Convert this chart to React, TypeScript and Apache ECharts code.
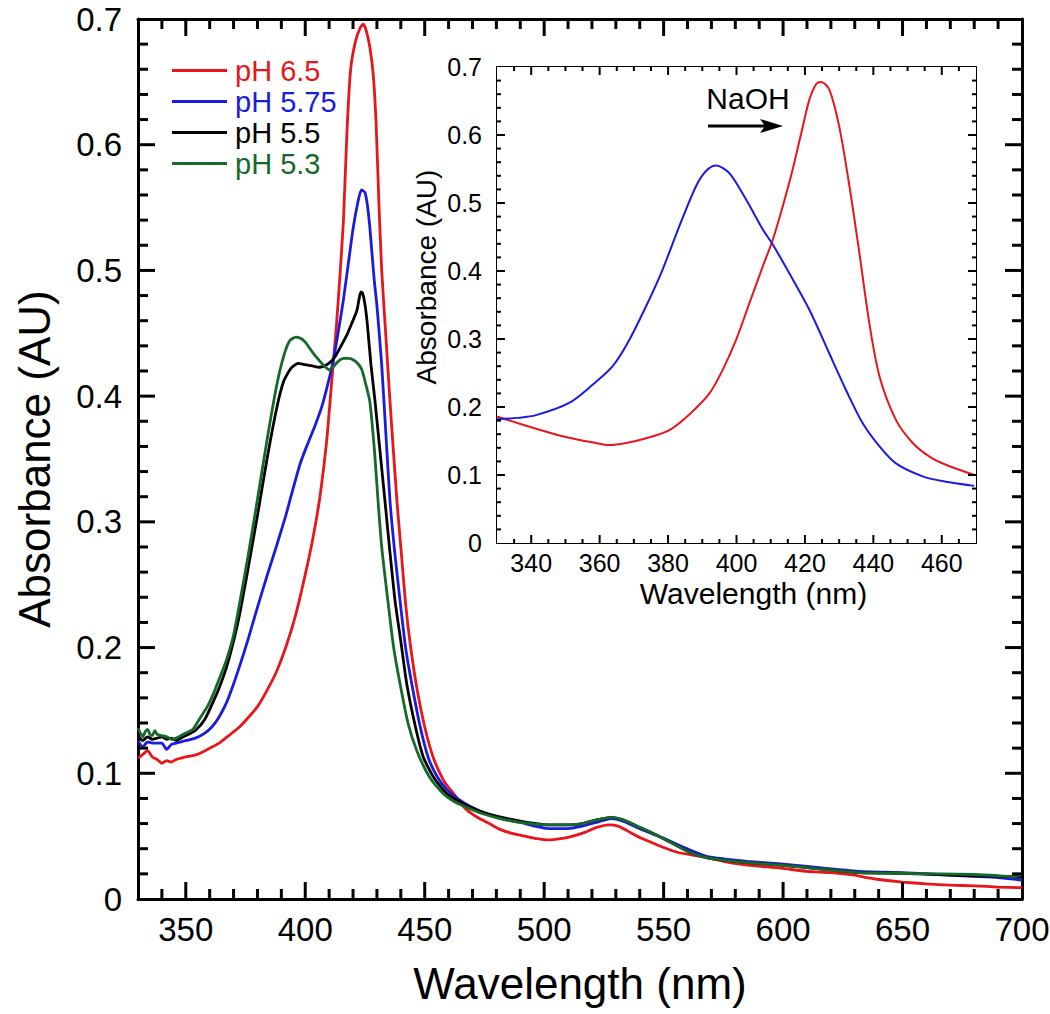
import React, { useEffect, useRef } from "react";
import * as echarts from "echarts";

const FONT = '"Liberation Sans", Arial, Helvetica, sans-serif';

// tick labels / tick positions
const mainMajorTicks = [350, 400, 450, 500, 550, 600, 650, 700];
const mainMinorTicks = [340, 360, 370, 380, 390, 410, 420, 430, 440, 460, 470, 480, 490, 510, 520, 530, 540, 560, 570, 580, 590, 610, 620, 630, 640, 660, 670, 680, 690];
const insetMajorTicks = [340, 360, 380, 400, 420, 440, 460];
const insetMinorTicks = [335, 345, 350, 355, 365, 370, 375, 385, 390, 395, 405, 410, 415, 425, 430, 435, 445, 450, 455, 465];
const yMajorTicks = [0.1, 0.2, 0.3, 0.4, 0.5, 0.6];
const yMinorTicks = [0.02, 0.04, 0.06, 0.08, 0.12, 0.14, 0.16, 0.18, 0.22, 0.24, 0.26, 0.28, 0.32, 0.34, 0.36, 0.38, 0.42, 0.44, 0.46, 0.48, 0.52, 0.54, 0.56, 0.58, 0.62, 0.64, 0.66, 0.68];

// legend names
const names = ["pH 6.5", "pH 5.75", "pH 5.5", "pH 5.3"];
const colors = ["#e8161b", "#1b1be0", "#000000", "#15692a"];

// pH 6.5
const wl65 = [330, 332, 334, 336, 338, 340, 342, 344, 346, 348, 350, 353, 356, 360, 364, 368, 372, 376, 380, 384, 388, 392, 396, 400, 403, 406, 409, 411, 413, 414.5, 416, 417.5, 419, 421, 423, 424.3, 425.5, 427, 428.5, 429.7, 430.8, 432, 433.5, 435.5, 438.4, 440, 442, 444, 446.7, 450, 453.5, 458, 462, 467, 472, 477, 482, 487, 492, 497, 502, 507, 512, 517, 522, 527, 531, 535, 540, 545, 550, 556, 562, 568, 575, 585, 599, 610, 620, 630, 635, 640, 650, 660, 670, 680, 690, 700];
const abs65 = [0.112, 0.115, 0.118, 0.113, 0.111, 0.108, 0.110, 0.109, 0.111, 0.112, 0.113, 0.114, 0.116, 0.120, 0.124, 0.130, 0.136, 0.144, 0.153, 0.166, 0.181, 0.201, 0.226, 0.258, 0.285, 0.318, 0.365, 0.410, 0.455, 0.495, 0.540, 0.612, 0.660, 0.682, 0.693, 0.696, 0.691, 0.678, 0.655, 0.615, 0.555, 0.500, 0.455, 0.395, 0.316, 0.280, 0.235, 0.202, 0.168, 0.137, 0.113, 0.094, 0.084, 0.072, 0.065, 0.060, 0.055, 0.052, 0.050, 0.048, 0.047, 0.048, 0.050, 0.053, 0.057, 0.059, 0.058, 0.054, 0.049, 0.045, 0.041, 0.037, 0.035, 0.033, 0.030, 0.027, 0.0245, 0.022, 0.021, 0.019, 0.017, 0.0155, 0.0135, 0.012, 0.011, 0.0105, 0.0095, 0.009];

// pH 5.75
const wl575 = [330, 332, 334, 336, 338, 340, 342, 344, 346, 348, 350, 354, 358, 361, 364, 367, 370, 373, 376, 380, 384, 388, 392, 395, 398, 401, 404, 407, 409.5, 411.6, 413, 414.5, 416, 418, 420, 422, 423.5, 425, 426, 427, 428, 429, 430, 432, 434, 435.5, 437.5, 439.7, 442, 444.6, 448, 451.4, 455, 459.3, 466, 473, 480, 490, 496, 502, 510, 516, 522, 528, 533, 540, 549, 555, 561, 568, 575, 585, 599, 610, 620, 632, 649, 660, 670, 680, 690, 700];
const abs575 = [0.126, 0.121, 0.125, 0.124, 0.124, 0.124, 0.119, 0.123, 0.124, 0.125, 0.126, 0.128, 0.132, 0.137, 0.145, 0.156, 0.171, 0.188, 0.206, 0.232, 0.257, 0.281, 0.306, 0.327, 0.347, 0.362, 0.376, 0.392, 0.410, 0.427, 0.442, 0.459, 0.477, 0.505, 0.533, 0.554, 0.564, 0.562, 0.552, 0.535, 0.512, 0.490, 0.472, 0.425, 0.362, 0.316, 0.275, 0.237, 0.200, 0.171, 0.138, 0.113, 0.098, 0.087, 0.077, 0.070, 0.065, 0.061, 0.058, 0.056, 0.056, 0.058, 0.061, 0.064, 0.062, 0.056, 0.049, 0.044, 0.039, 0.034, 0.032, 0.030, 0.028, 0.026, 0.024, 0.022, 0.021, 0.020, 0.019, 0.018, 0.017, 0.015];

// pH 5.5
const wl55 = [330, 332, 334, 336, 338, 340, 342, 344, 346, 348, 350, 354, 358, 361.5, 364, 367, 370, 372.7, 376, 380, 384, 388, 391, 394, 397, 400, 403, 406, 409, 411, 413, 415, 417.5, 419.5, 421.6, 422.5, 423.3, 424, 425, 426, 427.5, 429.2, 431.3, 433.4, 435.5, 437.6, 440, 442.5, 446, 449.4, 454, 459.2, 466, 473, 480, 490, 502, 510, 516, 522, 528, 533, 540, 549, 555, 561, 568, 575, 585, 599, 615, 632, 649, 670, 690, 700];
const abs55 = [0.130, 0.126, 0.129, 0.127, 0.128, 0.129, 0.127, 0.128, 0.126, 0.128, 0.130, 0.134, 0.143, 0.157, 0.168, 0.184, 0.205, 0.228, 0.262, 0.305, 0.350, 0.390, 0.412, 0.422, 0.426, 0.425, 0.424, 0.423, 0.425, 0.428, 0.433, 0.440, 0.449, 0.458, 0.468, 0.477, 0.483, 0.482, 0.473, 0.457, 0.425, 0.396, 0.356, 0.316, 0.275, 0.237, 0.205, 0.171, 0.138, 0.113, 0.096, 0.084, 0.076, 0.070, 0.066, 0.062, 0.059, 0.059, 0.060, 0.063, 0.065, 0.063, 0.057, 0.049, 0.043, 0.037, 0.033, 0.031, 0.029, 0.027, 0.024, 0.021, 0.0205, 0.019, 0.018, 0.0175];

// pH 5.3
const wl53 = [330, 331, 332, 333, 334, 335, 336, 337, 338, 340, 342, 344, 346, 348, 350, 353, 356, 359, 361.5, 364, 367, 370, 372.7, 376, 380, 384, 388, 391, 393.5, 396, 398, 400, 403, 406, 408, 410, 412, 414, 416, 418, 420, 422, 423.7, 425, 427, 429, 430.5, 432, 434.6, 437, 439.7, 443, 446.7, 452, 457.7, 462, 467.5, 474, 481.5, 490, 502, 510, 516, 522, 528, 533, 540, 549, 556, 561, 568, 575, 585, 599, 615, 632, 649, 665, 680, 690, 696, 700];
const abs53 = [0.136, 0.132, 0.129, 0.133, 0.135, 0.131, 0.130, 0.134, 0.131, 0.130, 0.129, 0.127, 0.128, 0.130, 0.132, 0.135, 0.144, 0.153, 0.163, 0.175, 0.190, 0.210, 0.237, 0.272, 0.318, 0.365, 0.408, 0.432, 0.444, 0.447, 0.446, 0.443, 0.435, 0.428, 0.424, 0.421, 0.424, 0.428, 0.430, 0.430, 0.429, 0.426, 0.421, 0.412, 0.396, 0.356, 0.316, 0.280, 0.237, 0.200, 0.171, 0.140, 0.118, 0.097, 0.084, 0.078, 0.073, 0.068, 0.064, 0.061, 0.059, 0.059, 0.060, 0.063, 0.065, 0.063, 0.057, 0.049, 0.042, 0.037, 0.033, 0.031, 0.029, 0.027, 0.024, 0.021, 0.0205, 0.020, 0.0195, 0.0185, 0.0175, 0.0195];

// inset: red (NaOH added) and blue
const wlInsetRed = [330, 339.5, 349.2, 358.9, 362.8, 367.7, 373.6, 380.4, 386.2, 392.1, 396, 399.9, 403.8, 407.7, 410.6, 413.5, 416.4, 419.4, 421.3, 423.3, 424.7, 427.1, 430, 433, 435.9, 438.8, 441.8, 446.6, 451.5, 456.4, 461.2, 469.5];
const absInsetRed = [0.186, 0.171, 0.157, 0.147, 0.144, 0.147, 0.154, 0.166, 0.189, 0.220, 0.255, 0.299, 0.353, 0.407, 0.446, 0.495, 0.549, 0.613, 0.652, 0.675, 0.678, 0.667, 0.613, 0.525, 0.427, 0.324, 0.245, 0.181, 0.147, 0.127, 0.115, 0.100];
const wlInsetBlue = [330, 336, 341.4, 351.1, 358, 363.8, 368.7, 374.5, 378.4, 383.3, 388.2, 391.1, 394, 397.9, 402.8, 407.7, 410.6, 415.4, 421.3, 427.1, 432, 436.9, 441.8, 446.6, 454.4, 461.2, 469.5];
const absInsetBlue = [0.182, 0.184, 0.188, 0.206, 0.233, 0.260, 0.299, 0.358, 0.402, 0.466, 0.525, 0.547, 0.555, 0.544, 0.505, 0.461, 0.439, 0.397, 0.343, 0.279, 0.225, 0.176, 0.142, 0.117, 0.098, 0.090, 0.084];

const pairs = (x: number[], y: number[]) => x.map((v, i) => [v, y[i]]);
const yFmt = (v: number) => (v === 0 ? "0" : v.toFixed(1));

// tick items inside the data range: [x, y, kind] kind 0 x-major, 1 x-minor, 2 y-major, 3 y-minor
const tickItems = (xMaj: number[], xMin: number[], x0: number) => [
  ...xMaj.map((v) => [v, 0, 0]),
  ...xMin.map((v) => [v, 0, 1]),
  ...yMajorTicks.map((v) => [x0, v, 2]),
  ...yMinorTicks.map((v) => [x0, v, 3]),
];

function tickSeries(id: string, xIdx: number, yIdx: number, x0: number, x1: number, majLen: number, minLen: number, w: number, items: number[][]) {
  return {
    type: "custom",
    id,
    name: id,
    coordinateSystem: "cartesian2d",
    xAxisIndex: xIdx,
    yAxisIndex: yIdx,
    data: items,
    dimensions: ["x", "y", "kind"],
    encode: { x: 0, y: 1 },
    silent: true,
    clip: false,
    z: 20,
    renderItem: (_p: any, api: any) => {
      const xv = api.value(0);
      const yv = api.value(1);
      const kind = api.value(2);
      const len = kind === 0 || kind === 2 ? majLen : minLen;
      const st = { fill: "#000" };
      if (kind < 2) {
        const b = api.coord([xv, 0]);
        const t = api.coord([xv, 0.7]);
        return {
          type: "group",
          children: [
            { type: "rect", shape: { x: b[0] - w / 2, y: b[1] - len, width: w, height: len }, style: st },
            { type: "rect", shape: { x: t[0] - w / 2, y: t[1], width: w, height: len }, style: st },
          ],
        };
      }
      const l = api.coord([x0, yv]);
      const r = api.coord([x1, yv]);
      return {
        type: "group",
        children: [
          { type: "rect", shape: { x: l[0], y: l[1] - w / 2, width: len, height: w }, style: st },
          { type: "rect", shape: { x: r[0] - len, y: r[1] - w / 2, width: len, height: w }, style: st },
        ],
      };
    },
  };
}

function buildOption() {
  const black = "#000";
  const xBase = (grid: number, pos: "top" | "bottom", lw: number) => ({
    type: "value",
    gridIndex: grid,
    position: pos,
    min: 330,
    max: grid === 0 ? 700 : 470,
    splitLine: { show: false },
    nameMoveOverlap: false,
    axisLine: { show: true, onZero: false, lineStyle: { color: black, width: lw } },
    axisTick: { show: false },
    axisLabel: { show: false },
  });

  const xAxis = [
    {
      ...xBase(0, "bottom", 3),
      axisLabel: { show: true, customValues: mainMajorTicks, margin: 14, fontSize: 33, color: black, fontFamily: FONT },
      name: "Wavelength (nm)",
      nameLocation: "middle",
      nameGap: 62,
      nameTextStyle: { fontSize: 44, color: black, fontFamily: FONT },
    },
    xBase(0, "top", 3),
    {
      ...xBase(1, "bottom", 2),
      axisLabel: { show: true, customValues: insetMajorTicks, margin: 7, fontSize: 25, color: black, fontFamily: FONT },
      name: "Wavelength (nm)",
      nameLocation: "middle",
      nameGap: 35,
      nameTextStyle: { fontSize: 30, color: black, fontFamily: FONT, padding: [0, 0, 0, 34] },
    },
    xBase(1, "top", 2),
  ];

  const yBase = (grid: number, pos: "left" | "right", showLabel: boolean) => {
    const main = grid === 0;
    return {
      type: "value",
      gridIndex: grid,
      position: pos,
      min: 0,
      max: 0.7,
      interval: 0.1,
      splitLine: { show: false },
      nameMoveOverlap: false,
      axisLine: { show: true, onZero: false, lineStyle: { color: black, width: main ? 3 : 2 } },
      axisTick: { show: false },
      minorTick: { show: false },
      axisLabel: {
        show: showLabel,
        formatter: yFmt,
        margin: main ? 16 : 15,
        fontSize: main ? 33 : 25,
        color: black,
        fontFamily: FONT,
      },
    };
  };

  const yAxis = [
    {
      ...yBase(0, "left", true),
      name: "Absorbance (AU)",
      nameLocation: "middle",
      nameGap: 82,
      nameTextStyle: { fontSize: 44, color: black, fontFamily: FONT },
    },
    yBase(0, "right", false),
    {
      ...yBase(1, "left", true),
      name: "Absorbance (AU)",
      nameLocation: "middle",
      nameGap: 57,
      nameTextStyle: { fontSize: 28, color: black, fontFamily: FONT, padding: [0, 0, 0, 56] },
    },
    yBase(1, "right", false),
  ];

  const mainData = [
    pairs(wl65, abs65),
    pairs(wl575, abs575),
    pairs(wl55, abs55),
    pairs(wl53, abs53),
  ];

  const series: any[] = [];
  series.push(tickSeries("ticksMain", 0, 0, 330, 700, 17, 10, 3, tickItems(mainMajorTicks.filter((v) => v < 700), mainMinorTicks, 330)));
  series.push(tickSeries("ticksInset", 2, 2, 330, 470, 8, 4, 2, tickItems(insetMajorTicks, insetMinorTicks, 330)));

  mainData.forEach((d, i) => {
    series.push({
      type: "line",
      name: names[i],
      xAxisIndex: 0,
      yAxisIndex: 0,
      data: d,
      symbol: "none",
      showSymbol: false,
      smooth: 0.2,
      lineStyle: { color: colors[i], width: 2.8 },
      itemStyle: { color: colors[i] },
      z: 3 + i,
    });
  });

  series.push({
    type: "line",
    name: "inset NaOH",
    xAxisIndex: 2,
    yAxisIndex: 2,
    data: pairs(wlInsetRed, absInsetRed),
    symbol: "none",
    showSymbol: false,
    smooth: 0.3,
    lineStyle: { color: "#e8161b", width: 2 },
    itemStyle: { color: "#e8161b" },
    z: 10,
  });
  series.push({
    type: "line",
    name: "inset acid",
    xAxisIndex: 2,
    yAxisIndex: 2,
    data: pairs(wlInsetBlue, absInsetBlue),
    symbol: "none",
    showSymbol: false,
    smooth: 0.3,
    lineStyle: { color: "#1b1be0", width: 2 },
    itemStyle: { color: "#1b1be0" },
    z: 10,
  });

  return {
    animation: false,
    backgroundColor: "#ffffff",
    textStyle: { fontFamily: FONT },
    grid: [
      { left: 138, top: 19, width: 884, height: 880, containLabel: false, outerBoundsMode: "none" },
      {
        left: 497,
        top: 67,
        width: 479,
        height: 476,
        containLabel: false,
        outerBoundsMode: "none",
        show: true,
        backgroundColor: "#ffffff",
        borderWidth: 0,
        z: 1,
      },
    ],
    legend: {
      show: true,
      orient: "vertical",
      left: 172,
      top: 55,
      padding: 0,
      itemGap: 0,
      itemWidth: 55,
      itemHeight: 3,
      icon: "rect",
      data: names.map((n, i) => ({
        name: n,
        textStyle: { color: colors[i] },
      })),
      textStyle: { fontSize: 29, lineHeight: 31, fontFamily: FONT, padding: [0, 0, 0, 3] },
      selectedMode: false,
    },
    xAxis,
    yAxis,
    series,
    graphic: [
      {
        type: "text",
        x: 748,
        y: 98,
        style: {
          text: "NaOH",
          fontSize: 30,
          fontFamily: FONT,
          fill: "#000",
          align: "center",
          verticalAlign: "middle",
        },
        z: 100,
      },
      {
        type: "line",
        shape: { x1: 708, y1: 126, x2: 768, y2: 126 },
        style: { stroke: "#000", lineWidth: 3 },
        z: 100,
      },
      {
        type: "polygon",
        shape: { points: [[760, 119], [783, 126], [760, 133], [765, 126]] },
        style: { fill: "#000" },
        z: 100,
      },
    ],
  };
}

export default function App() {
  const ref = useRef<HTMLDivElement>(null);
  useEffect(() => {
    document.body.style.margin = "0";
    if (!ref.current) return;
    const chart = echarts.init(ref.current, undefined, { renderer: "svg" });
    chart.setOption(buildOption() as any);
    return () => {
      chart.dispose();
    };
  }, []);
  return <div ref={ref} style={{ width: 1050, height: 1014, background: "#fff" }} />;
}
